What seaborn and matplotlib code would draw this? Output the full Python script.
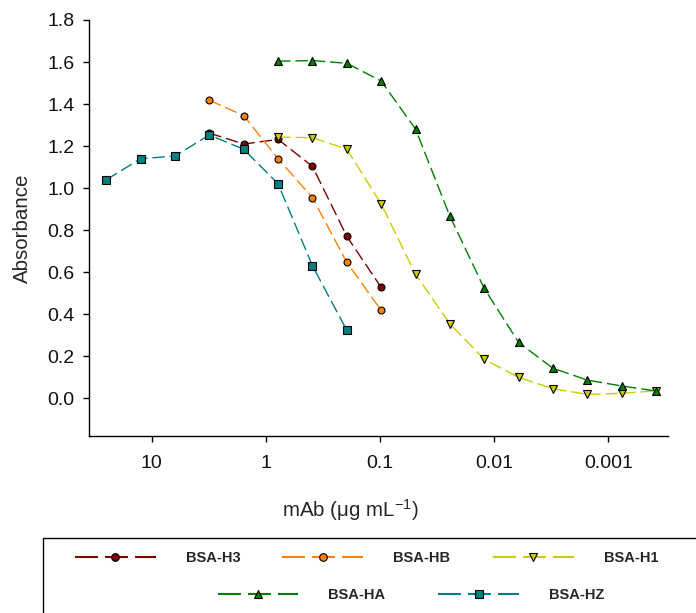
import numpy as np
import pandas as pd
import matplotlib
matplotlib.use("Agg")
import matplotlib.pyplot as plt
from matplotlib.lines import Line2D
from matplotlib.patches import Rectangle
from matplotlib.ticker import FixedLocator, FixedFormatter, NullLocator
import seaborn as sns

# ---- data ----
conc = [25, 12.5, 6.25, 3.125, 1.5625, 0.78125, 0.390625, 0.1953125,
        0.09765625, 0.048828125, 0.0244140625, 0.01220703125,
        0.006103515625, 0.0030517578125, 0.00152587890625,
        0.000762939453125, 0.0003814697265625]

h3_x = conc[3:9]
h3_y = [1.262, 1.210, 1.232, 1.104, 0.771, 0.528]
hb_x = conc[3:9]
hb_y = [1.418, 1.345, 1.140, 0.955, 0.647, 0.419]
h1_x = conc[5:17]
h1_y = [1.243, 1.240, 1.186, 0.925, 0.591, 0.354, 0.186, 0.100, 0.046, 0.019, 0.024, 0.036]
ha_x = conc[5:17]
ha_y = [1.604, 1.607, 1.594, 1.510, 1.281, 0.867, 0.523, 0.266, 0.143, 0.087, 0.059, 0.035]
hz_x = conc[0:8]
hz_y = [1.040, 1.140, 1.153, 1.253, 1.185, 1.021, 0.631, 0.324]

labels = ["BSA-H3", "BSA-HB", "BSA-H1", "BSA-HA", "BSA-HZ"]
colors = ["#800000", "#FF8000", "#CCCC00", "#008000", "#008080"]
markers = ["o", "o", "v", "^", "s"]

xticks = [10, 1, 0.1, 0.01, 0.001]
xticklabels = ["10", "1", "0.1", "0.01", "0.001"]
yticks = [0.0, 0.2, 0.4, 0.6, 0.8, 1.0, 1.2, 1.4, 1.6, 1.8]
yticklabels = ["0.0", "0.2", "0.4", "0.6", "0.8", "1.0", "1.2", "1.4", "1.6", "1.8"]

# ---- style ----
sns.set_theme(style="ticks")
plt.rcParams["font.family"] = ["Liberation Sans", "DejaVu Sans"]
plt.rcParams["mathtext.fontset"] = "custom"
plt.rcParams["mathtext.rm"] = "Liberation Sans"
plt.rcParams["mathtext.it"] = "Liberation Sans:italic"
plt.rcParams["mathtext.bf"] = "Liberation Sans:bold"

W, H = 696, 613
fig = plt.figure(figsize=(W / 100, H / 100), dpi=100)
ax = fig.add_axes([89 / W, (H - 436) / H, (668.3 - 89) / W, (436 - 20) / H])

series = [(h3_x, h3_y), (hb_x, hb_y), (h1_x, h1_y), (ha_x, ha_y), (hz_x, hz_y)]
dash = (0, (9, 3.5))
for (xs, ys), lab, c, m in zip(series, labels, colors, markers):
    df = pd.DataFrame({"conc": xs, "abs": ys})
    sns.lineplot(data=df, x="conc", y="abs", ax=ax, color=c, marker=m,
                 markersize=5.5 if m != "o" else 5, markeredgecolor="black",
                 markeredgewidth=0.8, markerfacecolor=c, linewidth=1.0,
                 linestyle=dash, sort=False, legend=False)

ax.set_xscale("log")
ax.set_xlim(35.4, 0.000298)
ax.set_ylim(-0.179, 1.8)
ax.xaxis.set_major_locator(FixedLocator(xticks))
ax.xaxis.set_major_formatter(FixedFormatter(xticklabels))
ax.xaxis.set_minor_locator(NullLocator())
ax.yaxis.set_major_locator(FixedLocator(yticks))
ax.yaxis.set_major_formatter(FixedFormatter(yticklabels))

for s in ["top", "right"]:
    ax.spines[s].set_visible(False)
for s in ["left", "bottom"]:
    ax.spines[s].set_color("black")
    ax.spines[s].set_linewidth(1.0)
ax.spines["left"].set_bounds(-0.179, 1.8)

ax.tick_params(axis="both", direction="out", length=4.5, width=1.0,
               color="black", labelsize=14, labelcolor="#111111")
ax.tick_params(axis="y", pad=6)
ax.tick_params(axis="x", pad=9)
ax.grid(False)

ax.set_ylabel("Absorbance", fontsize=14.8, labelpad=11)
ax.set_xlabel("mAb (μg mL$^{\\mathregular{-1}}$)", fontsize=14.8, labelpad=18)
ax.xaxis.label.set_x((350.5 - 89) / (668.3 - 89))

# ---- legend ----
handles = [Line2D([], [], color=c, marker=m, markersize=6 if m != "o" else 5.5,
                  markeredgecolor="black", markeredgewidth=0.8, markerfacecolor=c,
                  linewidth=1.5, linestyle=(0, (11, 3.4)))
           for c, m in zip(colors, markers)]

fs = 10.5
leg1 = fig.legend(handles[:3], labels[:3], ncol=3, frameon=False,
                  loc="center left", bbox_to_anchor=(74.6 / W, 1 - 557.7 / H),
                  borderpad=0, borderaxespad=0, handlelength=5.55,
                  handletextpad=2.06, columnspacing=2.9, numpoints=1,
                  prop={"weight": "bold", "size": fs})
leg2 = fig.legend(handles[3:], labels[3:], ncol=2, frameon=False,
                  loc="center left", bbox_to_anchor=(217.5 / W, 1 - 595 / H),
                  borderpad=0, borderaxespad=0, handlelength=5.55,
                  handletextpad=2.06, columnspacing=3.6, numpoints=1,
                  prop={"weight": "bold", "size": fs})
fig.add_artist(Rectangle((43 / W, -0.1), 1.2, (613 - 538) / H + 0.1,
                         transform=fig.transFigure, fill=False,
                         edgecolor="black", linewidth=1.0))

fig.savefig("out.png", dpi=100)
